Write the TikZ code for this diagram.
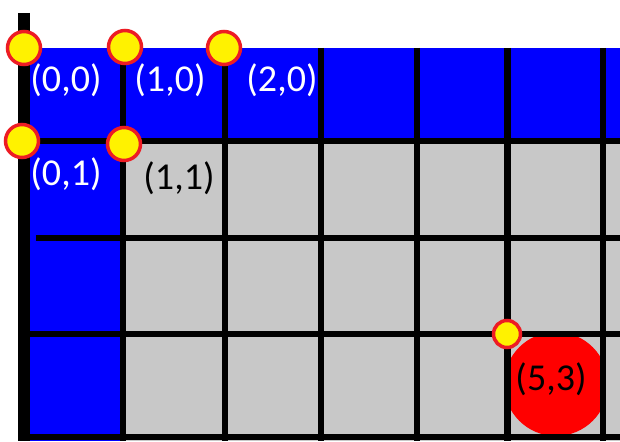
\documentclass[tikz,border=0pt]{standalone}
\usepackage{fontspec}
\setmainfont{Carlito}
\definecolor{cellblue}{RGB}{0,0,255}
\definecolor{cellgray}{RGB}{200,200,200}
\definecolor{ringred}{RGB}{237,28,36}
\definecolor{dotyellow}{RGB}{255,242,0}
\definecolor{bigred}{RGB}{255,0,0}
\tikzset{
  gridline/.style={line width=6.5pt, black},
  bigpt/.style={circle, fill=dotyellow, draw=ringred, line width=3.5pt, inner sep=0pt, minimum size=33pt},
  smallpt/.style={circle, fill=dotyellow, draw=ringred, line width=3.5pt, inner sep=0pt, minimum size=27pt},
  lbl/.style={font=\fontsize{38}{38}\selectfont, anchor=base, inner sep=0pt},
}
\begin{document}
\begin{tikzpicture}[x=1pt,y=-1pt]
\useasboundingbox (0,0) rectangle (620,441);
% cell fills
\fill[cellgray] (30,141) rectangle (620,441);
\fill[cellblue] (30,48) rectangle (620,141);
\fill[cellblue] (30,141) rectangle (123,441);
% big red marker in cell (5,3)
\begin{scope}
  \clip (510.5,337) rectangle (600,434);
  \fill[bigred] (556,384) circle[radius=52];
\end{scope}
% grid lines
\draw[black, line width=12pt] (24,13) -- (24,441);
\draw[gridline] (18,141) -- (620,141);
\draw[gridline] (36,238) -- (620,238);
\draw[gridline] (18,334) -- (620,334);
\draw[gridline] (18,437) -- (620,437);
\foreach \xx in {123,225,321,417,507.5,603} {
  \draw[gridline] (\xx,48) -- (\xx,441);
}
% corner points
\node[bigpt] (p00) at (24,48) {};
\node[bigpt] (p10) at (125,47) {};
\node[bigpt] (p20) at (224,48) {};
\node[bigpt] (p01) at (22,141) {};
\node[bigpt] (p11) at (124,144) {};
\node[smallpt] (p53) at (507,334) {};
% labels
\node[lbl, text=white] (l00) at (66,92) {(0,0)};
\node[lbl, text=white] (l10) at (170,92) {(1,0)};
\node[lbl, text=white] (l20) at (282,92) {(2,0)};
\node[lbl, text=white] (l01) at (66,185) {(0,1)};
\node[lbl, text=black] (l11) at (179,189) {(1,1)};
\node[lbl, text=black] (l53) at (551,390) {(5,3)};
\end{tikzpicture}
\end{document}
